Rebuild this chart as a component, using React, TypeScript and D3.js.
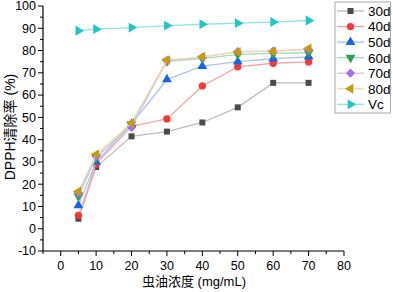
import React from 'react';
import * as d3 from 'd3';

// concentration (mg/mL)
const conc = [5, 10, 20, 30, 40, 50, 60, 70];

const d30 = [4.5, 27.7, 41.5, 43.6, 47.7, 54.5, 65.5, 65.5];
const d40 = [6.0, 29.0, 46.0, 49.3, 64.1, 72.7, 74.3, 74.9];
const d50 = [10.5, 30.0, 47.0, 67.0, 73.0, 75.0, 76.4, 77.2];
const d60 = [14.6, 32.0, 47.0, 75.2, 76.4, 78.3, 78.7, 79.0];
const d70 = [16.0, 32.5, 45.5, 75.5, 77.0, 79.5, 79.8, 80.4];
const d80 = [16.7, 33.4, 47.5, 75.7, 77.2, 79.4, 79.6, 80.9];
const vc = [88.9, 89.6, 90.3, 91.2, 91.8, 92.3, 92.8, 93.5];

const seriesNames = ['30d', '40d', '50d', '60d', '70d', '80d', 'Vc'];
const seriesValues = [d30, d40, d50, d60, d70, d80, vc];

const xTicks = [0, 10, 20, 30, 40, 50, 60, 70, 80];
const yTicks = [-10, 0, 10, 20, 30, 40, 50, 60, 70, 80, 90, 100];

// marker colour, line colour, marker shape, rotation
const styles = [
  { fill: '#4a4a4a', line: '#bdbdbd', shape: d3.symbolSquare, rot: 0 },
  { fill: '#f03a3a', line: '#f2a7a7', shape: d3.symbolCircle, rot: 0 },
  { fill: '#1a64e0', line: '#a8c3ef', shape: d3.symbolTriangle, rot: 0 },
  { fill: '#2aa050', line: '#a6dab6', shape: d3.symbolTriangle, rot: 180 },
  { fill: '#a66ee8', line: '#d8c4f1', shape: d3.symbolSquare, rot: 45 },
  { fill: '#c99a10', line: '#ecdcae', shape: d3.symbolTriangle, rot: -90 },
  { fill: '#20c5c5', line: '#8ee4e4', shape: d3.symbolTriangle, rot: 90 },
];

const font = 'Arial, "Liberation Sans", "Noto Sans CJK SC", sans-serif';

const App = () => {
  const x = d3.scaleLinear().domain([-5, 80]).range([43, 344]);
  const y = d3.scaleLinear().domain([-10, 100]).range([251, 6]);
  const line = d3.line<number>().x((d, i) => x(conc[i])).y((d) => y(d));

  const markerPath = (s: typeof styles[number]) =>
    d3.symbol().type(s.shape).size(s.shape === d3.symbolSquare && s.rot === 0 ? 36 : 42)();

  const xMinor = d3.range(-5, 81, 5);
  const yMinor = d3.range(-10, 101, 5);

  return (
    <svg width={393} height={292} style={{ position: 'absolute', left: 0, top: 0, background: '#fff' }}>
      {/* y axis */}
      <g>
        <line x1={x(-5)} x2={x(-5)} y1={y(-10)} y2={y(100)} stroke="#000" strokeWidth={1.2} />
        {yMinor.map((t) => (
          <line key={t} x1={x(-5)} x2={x(-5) - (t % 10 === 0 ? 5 : 3)} y1={y(t)} y2={y(t)} stroke="#000" strokeWidth={1} />
        ))}
        {yTicks.map((t) => (
          <text key={t} x={x(-5) - 7} y={y(t)} dy="0.35em" textAnchor="end" fontSize={12.5} fontFamily={font}>
            {t}
          </text>
        ))}
      </g>
      {/* x axis */}
      <g>
        <line x1={x(-5)} x2={x(80)} y1={y(-10)} y2={y(-10)} stroke="#000" strokeWidth={1.2} />
        {xMinor.map((t) => (
          <line key={t} x1={x(t)} x2={x(t)} y1={y(-10)} y2={y(-10) + (t % 10 === 0 ? 5 : 3)} stroke="#000" strokeWidth={1} />
        ))}
        {xTicks.map((t) => (
          <text key={t} x={x(t)} y={y(-10) + 19} textAnchor="middle" fontSize={12.5} fontFamily={font}>
            {t}
          </text>
        ))}
      </g>
      <text x={194} y={286} textAnchor="middle" fontSize={13} fontFamily={font}>
        虫油浓度 (mg/mL)
      </text>
      <text transform="translate(15,127) rotate(-90)" textAnchor="middle" fontSize={14} fontFamily={font}>
        DPPH清除率 (%)
      </text>

      {/* series */}
      {seriesValues.map((vals, si) => (
        <g key={seriesNames[si]}>
          <path d={line(vals) || ''} fill="none" stroke={styles[si].line} strokeWidth={1.3} />
          {vals.map((v, i) => (
            <path
              key={i}
              d={markerPath(styles[si]) || ''}
              transform={`translate(${x(conc[i])},${y(v)}) rotate(${styles[si].rot})`}
              fill={styles[si].fill}
            />
          ))}
        </g>
      ))}

      {/* legend */}
      <g>
        <rect x={335} y={2} width={55.5} height={111} fill="#fff" stroke="#aaa" strokeWidth={1} />
        {seriesNames.map((name, si) => {
          const ly = 11 + si * 15.55;
          return (
            <g key={name}>
              <line x1={337} x2={364} y1={ly} y2={ly} stroke={styles[si].line} strokeWidth={1.3} />
              <path
                d={markerPath(styles[si]) || ''}
                transform={`translate(350.5,${ly}) rotate(${styles[si].rot})`}
                fill={styles[si].fill}
              />
              <text x={368} y={ly} dy="0.36em" fontSize={13.5} fontFamily={font}>
                {name}
              </text>
            </g>
          );
        })}
      </g>
    </svg>
  );
};

export default App;
